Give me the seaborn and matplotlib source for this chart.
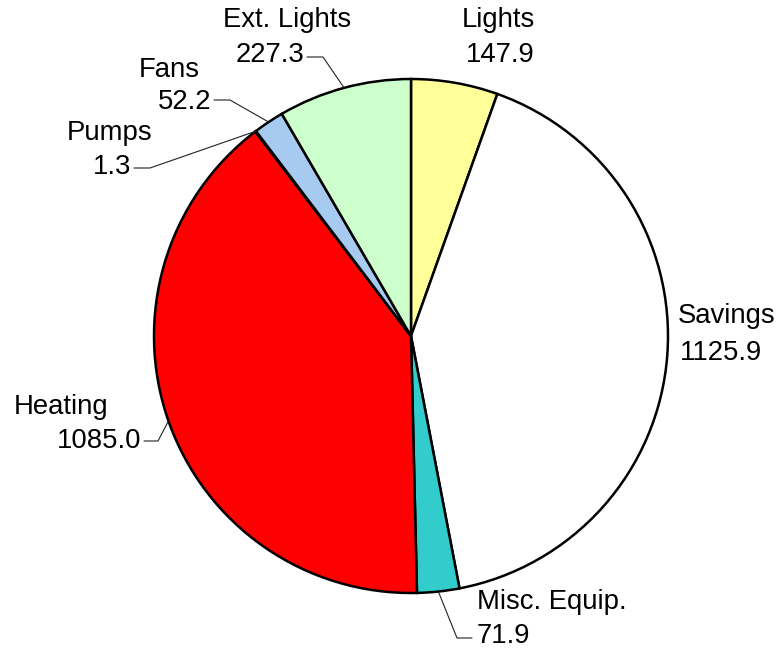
import matplotlib
matplotlib.use("Agg")
import matplotlib.pyplot as plt
import numpy as np
import seaborn as sns

# data, clockwise from 12 o'clock
categories = ["Lights", "Savings", "Misc. Equip.", "Heating", "Pumps", "Fans", "Ext. Lights"]
values = [147.9, 1125.9, 71.9, 1085.0, 1.3, 52.2, 227.3]
colors = ["#FFFF99", "#FFFFFF", "#33CCCC", "#FF0000", "#99CCFF", "#A6CAF0", "#CCFFCC"]

sns.set_theme(style="white")
plt.rcParams["font.family"] = ["Liberation Sans", "DejaVu Sans"]
plt.rcParams["text.color"] = "black"

W, H = 779, 655
fig = plt.figure(figsize=(W / 100, H / 100), dpi=100)
ax = fig.add_axes([0, 0, 1, 1])

# pixel layout, y measured from the top of the image
cx, cy, r = 411, 336, 257


def up(y):
    return H - y


ax.pie(values, colors=colors, startangle=90, counterclock=False,
       center=(cx, up(cy)), radius=r, frame=True,
       wedgeprops=dict(edgecolor="black", linewidth=1.8))
ax.set_xlim(0, W)
ax.set_ylim(0, H)
ax.set_aspect("equal")
ax.axis("off")

# label layout: (name xy, value xy, name ha, value ha, elbow points or None)
layout = {
    "Lights": ((498, 20), (500, 55), "center", "center", None),
    "Savings": ((678, 316), (680, 353), "left", "left", None),
    "Misc. Equip.": ((477, 602), (477, 636), "left", "left", [(472, 638), (457, 638)]),
    "Heating": ((14, 407), (141, 441), "left", "right", [(144, 441), (158, 441)]),
    "Pumps": ((67, 133), (131, 167), "left", "right", [(134, 168), (150, 168)]),
    "Fans": ((139, 70), (211, 102), "left", "right", [(214, 100), (230, 100)]),
    "Ext. Lights": ((287, 20), (304, 55), "center", "right", [(307, 57), (323, 57)]),
}

total = sum(values)
cum = 0.0
for name, v in zip(categories, values):
    mid = (cum + v / 2) / total
    cum += v
    ang = np.deg2rad(mid * 360)
    ex, ey = cx + r * np.sin(ang), cy - r * np.cos(ang)
    nxy, vxy, nha, vha, elbow = layout[name]
    ax.text(nxy[0], up(nxy[1]), name, ha=nha, va="center", fontsize=19.8)
    ax.text(vxy[0], up(vxy[1]), f"{v:.1f}", ha=vha, va="center", fontsize=19.8)
    if elbow:
        xs = [p[0] for p in elbow] + [ex]
        ys = [up(p[1]) for p in elbow] + [up(ey)]
        ax.plot(xs, ys, color="#222222", linewidth=0.8)

fig.savefig("out.png", dpi=100)
